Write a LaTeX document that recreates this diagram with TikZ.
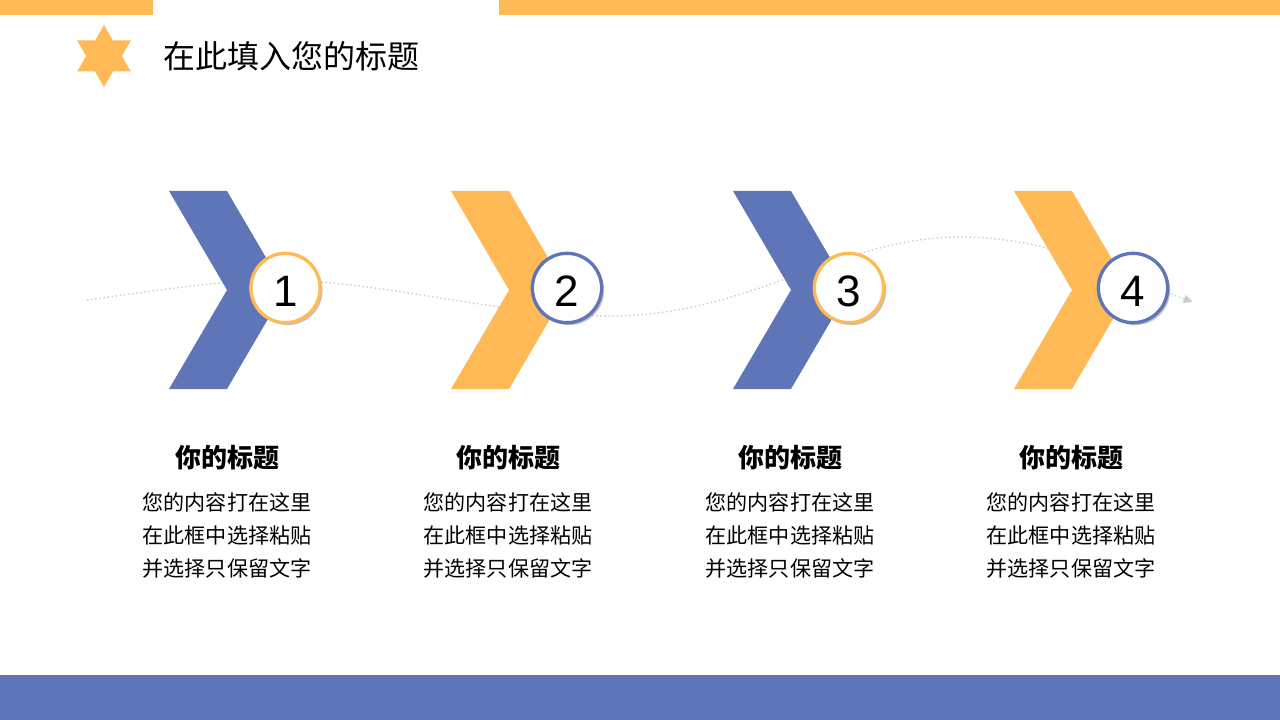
\documentclass[tikz,border=0pt]{standalone}
\usepackage{fontspec}
\setmainfont{Liberation Sans}
\newfontfamily\cjk{Noto Sans CJK SC}
\usetikzlibrary{shadows,arrows.meta}
\definecolor{cblue}{RGB}{94,117,184}
\definecolor{corange}{RGB}{255,185,87}
\definecolor{cline}{RGB}{205,205,205}
\newcommand\mychev[2]{\fill[#2] (#1,191) -- ++(58,0) -- ++(58,99) -- ++(-58,99) -- ++(-58,0) -- ++(58,-99) -- cycle;}
\begin{document}
\begin{tikzpicture}[x=0.75pt,y=-0.75pt,
  numcircle/.style={circle, draw=#1, line width=2.5pt, fill=white, minimum size=52pt, inner sep=0pt,
     drop shadow={shadow xshift=1.8pt, shadow yshift=-1.8pt, opacity=0.35, fill=black!70}},
  numtext/.style={font=\fontsize{33}{33}\selectfont, inner sep=0pt},
  headtitle/.style={anchor=west, font=\cjk\fontsize{24}{24}\selectfont, inner sep=0pt},
  subtitle/.style={font=\cjk\bfseries\fontsize{19.5}{19.5}\selectfont, inner sep=0pt},
  bodytext/.style={font=\cjk\fontsize{15.8}{24.75}\selectfont, align=center, inner sep=0pt},
  wave/.style={draw=cline, dotted, line width=1.1pt, -{Triangle[length=7pt,width=6pt,fill=cline]}}]
\useasboundingbox (0,0) rectangle (1280,720);
% bars
\fill[corange] (0,0) rectangle (153,15);
\fill[corange] (499,0) rectangle (1280,15);
\fill[cblue] (0,675) rectangle (1280,720);
% star
\fill[corange] (104,56) +(90:31) -- +(120:17.9) -- +(150:31) -- +(180:17.9) -- +(210:31) -- +(240:17.9)
  -- +(270:31) -- +(300:17.9) -- +(330:31) -- +(0:17.9) -- +(30:31) -- +(60:17.9) -- cycle;
\node[headtitle] (head) at (163,56) {在此填入您的标题};
% wave line
\coordinate (cs) at (87,300);
\coordinate (p1) at (275,280);
\coordinate (p2) at (610,316);
\coordinate (p3) at (960,237);
\coordinate (ce) at (1193,302);
\draw[wave] (cs) .. controls (160,290) and (225,280) .. (p1)
  .. controls (380,280) and (500,316) .. (p2)
  .. controls (750,316) and (840,237) .. (p3)
  .. controls (1060,237) and (1130,280) .. (ce);
% chevrons
\mychev{169}{cblue}
\mychev{451}{corange}
\mychev{733}{cblue}
\mychev{1014}{corange}
% circles
\foreach \cx/\i/\col in {285.5/1/corange,567/2/cblue,849/3/corange,1133/4/cblue}{
  \node[numcircle=\col] (n\i) at (\cx,288) {};
  \node[numtext] (d\i) at (\cx,291) {\i};
}
% texts
\foreach \cx/\i in {227/1,508/2,790/3,1071/4}{
  \node[subtitle] (t\i) at (\cx,458) {你的标题};
  \node[bodytext] (b\i) at (\cx,535) {您的内容打在这里\\在此框中选择粘贴\\并选择只保留文字};
}
\end{tikzpicture}
\end{document}
